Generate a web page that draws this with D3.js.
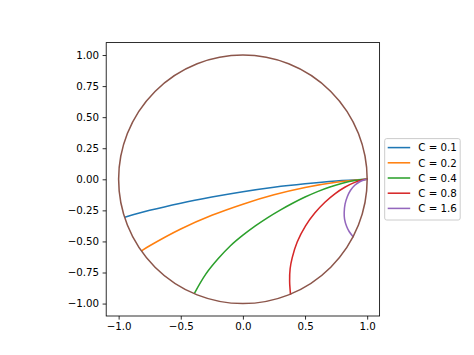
<!DOCTYPE html>
<html>
<head>
<meta charset="utf-8">
<script src="https://cdn.jsdelivr.net/npm/d3@7"></script>
<style>
  body { margin: 0; background: #fff; }
  text { font-family: "DejaVu Sans", sans-serif; }
</style>
</head>
<body>
<svg id="chart" width="474" height="355"></svg>
<script>
// legend labels + line colours (matplotlib tab10)
const labels = ["C = 0.1", "C = 0.2", "C = 0.4", "C = 0.8", "C = 1.6"];
const colors = ["#1f77b4", "#ff7f0e", "#2ca02c", "#d62728", "#9467bd"];
const circleColor = "#8c564b";

// curves, from the point on the circle to (1, 0)
const c01x = [-0.944, -0.75, -0.5, -0.25, 0, 0.25, 0.5, 0.75, 1.0];
const c01y = [-0.304, -0.25, -0.192, -0.143, -0.1, -0.064, -0.036, -0.014, 0];

const c02x = [-0.81, -0.75, -0.5, -0.25, 0, 0.25, 0.5, 0.75, 1.0];
const c02y = [-0.572, -0.535, -0.4, -0.29, -0.2, -0.125, -0.066, -0.024, 0];

const c04x = [-0.389, -0.3, -0.2, -0.1, 0, 0.1, 0.2, 0.3, 0.4, 0.5, 0.6, 0.7, 0.8, 0.9, 1.0];
const c04y = [-0.915, -0.765, -0.64, -0.535, -0.45, -0.375, -0.308, -0.248, -0.193, -0.143, -0.099, -0.062, -0.032, -0.01, 0];

const c08x = [0.383, 0.376, 0.38, 0.397, 0.437, 0.504, 0.58, 0.66, 0.74, 0.82, 0.9, 0.96, 1.0];
const c08y = [-0.923, -0.82, -0.72, -0.63, -0.505, -0.375, -0.27, -0.185, -0.117, -0.064, -0.025, -0.006, 0];

const c16x = [0.887, 0.855, 0.835, 0.818, 0.815, 0.822, 0.84, 0.865, 0.9, 0.94, 0.975, 1.0];
const c16y = [-0.462, -0.42, -0.38, -0.32, -0.27, -0.2, -0.14, -0.09, -0.048, -0.02, -0.005, 0];

const radius = 1;

const xTicks = [-1, -0.5, 0, 0.5, 1];
const yTicks = [-1, -0.75, -0.5, -0.25, 0, 0.25, 0.5, 0.75, 1];

const series = [
  [c01x, c01y],
  [c02x, c02y],
  [c04x, c04y],
  [c08x, c08y],
  [c16x, c16y],
];

const svg = d3.select("#chart");

// square axes box (aspect equal), like matplotlib's default subplot
const boxLeft = 106.2, boxRight = 379.6, boxTop = 42.6, boxBottom = 316;

const x = d3.scaleLinear().domain([-1.1, 1.1]).range([boxLeft, boxRight]);
const y = d3.scaleLinear().domain([-1.1, 1.1]).range([boxBottom, boxTop]);

const fontSize = 10.28;

const line = d3
  .line()
  .x((d) => x(d[0]))
  .y((d) => y(d[1]))
  .curve(d3.curveCatmullRom.alpha(0.5));

const plot = svg.append("g");

series.forEach((s, i) => {
  const pts = s[0].map((v, j) => [v, s[1][j]]);
  plot
    .append("path")
    .attr("d", line(pts))
    .attr("fill", "none")
    .attr("stroke", colors[i])
    .attr("stroke-width", 1.54)
    .attr("stroke-linecap", "square");
});

plot
  .append("circle")
  .attr("cx", x(0))
  .attr("cy", y(0))
  .attr("r", x(radius) - x(0))
  .attr("fill", "none")
  .attr("stroke", circleColor)
  .attr("stroke-width", 1.54);

// axes
const xAxis = svg
  .append("g")
  .attr("transform", `translate(0, ${boxBottom})`)
  .call(
    d3.axisBottom(x).tickValues(xTicks).tickFormat(d3.format(".1f")).tickSize(3.6).tickPadding(3.5)
  );

const yAxis = svg
  .append("g")
  .attr("transform", `translate(${boxLeft}, 0)`)
  .call(
    d3.axisLeft(y).tickValues(yTicks).tickFormat(d3.format(".2f")).tickSize(3.6).tickPadding(3.5)
  );

[xAxis, yAxis].forEach((a) => {
  a.select(".domain").remove();
  a.selectAll(".tick line").attr("stroke", "#000").attr("stroke-width", 0.82);
  a.selectAll(".tick text")
    .attr("fill", "#000")
    .style("font-size", fontSize + "px")
    .style("font-family", "'DejaVu Sans', sans-serif");
});

svg
  .append("rect")
  .attr("x", boxLeft)
  .attr("y", boxTop)
  .attr("width", boxRight - boxLeft)
  .attr("height", boxBottom - boxTop)
  .attr("fill", "none")
  .attr("stroke", "#000")
  .attr("stroke-width", 0.82);

// legend, centre left outside the axes
const rowGap = 15.2;
const legX = boxRight + 5.1;
const legW = 75.5;
const legH = 81.4;
const legY = (boxTop + boxBottom) / 2 - legH / 2;

const legend = svg.append("g").attr("transform", `translate(${legX}, ${legY})`);

legend
  .append("rect")
  .attr("width", legW)
  .attr("height", legH)
  .attr("rx", 2)
  .attr("fill", "#fff")
  .attr("fill-opacity", 0.8)
  .attr("stroke", "#cccccc")
  .attr("stroke-width", 1);

const rows = legend
  .selectAll("g.row")
  .data(labels)
  .enter()
  .append("g")
  .attr("class", "row")
  .attr("transform", (d, i) => `translate(0, ${9 + i * rowGap})`);

rows
  .append("line")
  .attr("x1", 3)
  .attr("x2", 25.5)
  .attr("stroke", (d, i) => colors[i])
  .attr("stroke-width", 1.54);

rows
  .append("text")
  .attr("x", 33.5)
  .attr("dy", "0.36em")
  .style("font-size", fontSize + "px")
  .text((d) => d);
</script>
</body>
</html>
